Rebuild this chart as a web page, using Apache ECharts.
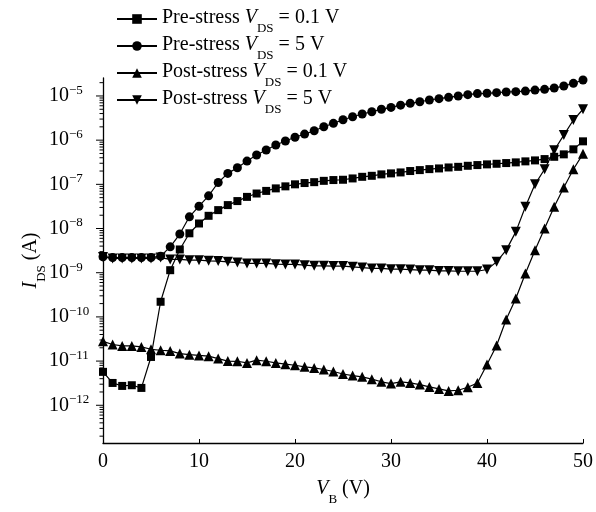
<!DOCTYPE html>
<html>
<head>
<meta charset="utf-8">
<script src="https://cdn.jsdelivr.net/npm/echarts@6/dist/echarts.min.js"></script>
<style>
  html, body { margin: 0; padding: 0; background: #fff; }
  #chart { width: 596px; height: 512px; }
</style>
</head>
<body>
<div id="chart"></div>
<script>
// Gate bias sweep (V)
const vb = [];
for (let v = 0; v <= 50; v++) vb.push(v);

// Drain current I_DS (A) for each curve, one value per gate bias step
const preStressLow = [
  5.7e-12, 3.2e-12, 2.74e-12, 2.84e-12, 2.47e-12, 1.24e-11, 2.2e-10, 1.14e-9, 3.36e-9, 7.8e-9,
  1.30e-8, 1.94e-8, 2.61e-8, 3.39e-8, 4.18e-8, 5.2e-8, 6.2e-8, 7.1e-8, 8.1e-8, 9.0e-8,
  1.0e-7, 1.07e-7, 1.12e-7, 1.2e-7, 1.25e-7, 1.27e-7, 1.36e-7, 1.48e-7, 1.56e-7, 1.68e-7,
  1.77e-7, 1.86e-7, 2.0e-7, 2.1e-7, 2.21e-7, 2.29e-7, 2.41e-7, 2.49e-7, 2.63e-7, 2.73e-7,
  2.83e-7, 2.92e-7, 3.03e-7, 3.14e-7, 3.31e-7, 3.48e-7, 3.73e-7, 4.2e-7, 4.77e-7, 6.2e-7,
  9.4e-7
];
const preStressHigh = [
  2.3e-9, 2.2e-9, 2.2e-9, 2.2e-9, 2.2e-9, 2.2e-9, 2.37e-9, 3.85e-9, 7.5e-9, 1.84e-8,
  3.2e-8, 5.5e-8, 1.1e-7, 1.77e-7, 2.37e-7, 3.36e-7, 4.6e-7, 5.97e-7, 7.75e-7, 9.55e-7,
  1.16e-6, 1.37e-6, 1.63e-6, 2.01e-6, 2.4e-6, 2.9e-6, 3.39e-6, 3.9e-6, 4.4e-6, 4.99e-6,
  5.5e-6, 6.2e-6, 6.8e-6, 7.4e-6, 8.1e-6, 8.7e-6, 9.3e-6, 1.0e-5, 1.07e-5, 1.13e-5,
  1.15e-5, 1.19e-5, 1.23e-5, 1.25e-5, 1.29e-5, 1.36e-5, 1.41e-5, 1.51e-5, 1.68e-5, 1.93e-5,
  2.3e-5
];
const postStressLow = [
  2.8e-11, 2.37e-11, 2.2e-11, 2.2e-11, 2.09e-11, 1.85e-11, 1.76e-11, 1.7e-11, 1.48e-11, 1.4e-11,
  1.34e-11, 1.29e-11, 1.14e-11, 1.0e-11, 9.9e-12, 9.1e-12, 1.05e-11, 9.9e-12, 9.1e-12, 8.5e-12,
  8.05e-12, 7.4e-12, 7.0e-12, 6.45e-12, 5.8e-12, 5.1e-12, 4.7e-12, 4.4e-12, 3.9e-12, 3.4e-12,
  3.1e-12, 3.4e-12, 3.2e-12, 2.94e-12, 2.6e-12, 2.34e-12, 2.11e-12, 2.19e-12, 2.56e-12, 3.2e-12,
  8.4e-12, 2.25e-11, 8.7e-11, 2.6e-10, 9.6e-10, 3.24e-9, 1.0e-8, 3.1e-8, 8.5e-8, 2.2e-7,
  4.9e-7
];
const postStressHigh = [
  2.28e-9, 2.1e-9, 2.1e-9, 2.1e-9, 2.1e-9, 2.1e-9, 2.2e-9, 2.0e-9, 2.0e-9, 1.92e-9,
  1.92e-9, 1.86e-9, 1.83e-9, 1.76e-9, 1.7e-9, 1.62e-9, 1.62e-9, 1.62e-9, 1.56e-9, 1.54e-9,
  1.54e-9, 1.48e-9, 1.43e-9, 1.43e-9, 1.41e-9, 1.41e-9, 1.36e-9, 1.31e-9, 1.25e-9, 1.25e-9,
  1.2e-9, 1.2e-9, 1.18e-9, 1.14e-9, 1.14e-9, 1.1e-9, 1.1e-9, 1.08e-9, 1.08e-9, 1.08e-9,
  1.18e-9, 1.76e-9, 3.24e-9, 8.4e-9, 3.1e-8, 1.0e-7, 2.2e-7, 5.9e-7, 1.3e-6, 2.85e-6,
  5.0e-6
];

// Axis ticks
const xTicks = [0, 10, 20, 30, 40, 50];
const yDecades = [1e-12, 1e-11, 1e-10, 1e-9, 1e-8, 1e-7, 1e-6, 1e-5];
const yMin = 1.4e-13;
const yMax = 2.55e-5;
const yMinorTicks = [];
for (let e = -13; e <= -5; e++) {
  for (let m = 2; m <= 9; m++) {
    const v = m * Math.pow(10, e);
    if (v > yMin && v < yMax) yMinorTicks.push(v);
  }
}

const FONT = 'Liberation Serif';
const seriesNames = [
  'Pre-stress VDS = 0.1 V',
  'Pre-stress VDS = 5 V',
  'Post-stress VDS = 0.1 V',
  'Post-stress VDS = 5 V'
];
const legendLabels = {
  'Pre-stress VDS = 0.1 V': '{n|Pre-stress }{i|V}{s|DS}{n| = 0.1 V}',
  'Pre-stress VDS = 5 V': '{n|Pre-stress }{i|V}{s|DS}{n| = 5 V}',
  'Post-stress VDS = 0.1 V': '{n|Post-stress }{i|V}{s|DS}{n| = 0.1 V}',
  'Post-stress VDS = 5 V': '{n|Post-stress }{i|V}{s|DS}{n| = 5 V}'
};

// Main text plus a lowered subscript
const subRich = {
  n: { fontFamily: FONT, fontSize: 20, color: '#000', lineHeight: 22, verticalAlign: 'top' },
  i: { fontFamily: FONT, fontSize: 20, color: '#000', fontStyle: 'italic', lineHeight: 22, verticalAlign: 'top' },
  s: { fontFamily: FONT, fontSize: 13, color: '#000', lineHeight: 13, verticalAlign: 'top', padding: [14, 0, 0, 0] }
};

function pairs(ys) { return vb.map((x, i) => [x, ys[i]]); }

function curve(name, ys, symbol, size, rotate) {
  return {
    name: name,
    type: 'line',
    data: pairs(ys),
    symbol: symbol,
    symbolSize: size,
    symbolRotate: rotate || 0,
    showAllSymbol: true,
    clip: false,
    lineStyle: { color: '#000', width: 1.2 },
    itemStyle: { color: '#000' },
    emphasis: { disabled: true },
    animation: false
  };
}

// Log-spaced tick marks drawn just left of the y axis
function tickSeries(values, len) {
  return {
    type: 'custom',
    clip: false,
    silent: true,
    z: 10,
    data: values.map(v => [0, v]),
    renderItem: function (params, api) {
      const c = api.coord([api.value(0), api.value(1)]);
      return {
        type: 'rect',
        shape: { x: c[0] - len, y: c[1] - 0.5, width: len, height: 1 },
        style: { fill: '#000' }
      };
    },
    animation: false
  };
}

const chart = echarts.init(document.getElementById('chart'), null, { renderer: 'canvas' });
chart.setOption({
  backgroundColor: '#fff',
  animation: false,
  grid: { left: 103, right: 11.5, top: 78, bottom: 69 },
  legend: {
    data: seriesNames,
    orient: 'vertical',
    left: 111,
    top: 3,
    itemWidth: 40,
    itemHeight: 12,
    itemGap: 0,
    selectedMode: false,
    formatter: name => legendLabels[name],
    textStyle: { fontFamily: FONT, fontSize: 20, color: '#000', rich: subRich }
  },
  xAxis: {
    type: 'value',
    min: xTicks[0],
    max: xTicks[xTicks.length - 1],
    interval: 10,
    name: '{i|V}{s|B}{n| (V)}',
    nameLocation: 'middle',
    nameGap: 36,
    nameMoveOverlap: false,
    nameTextStyle: { rich: subRich },
    axisLine: { lineStyle: { color: '#000', width: 1.3 } },
    axisTick: { inside: true, length: 4, lineStyle: { color: '#000', width: 1 } },
    axisLabel: { fontFamily: FONT, fontSize: 20, color: '#000', margin: 9 },
    splitLine: { show: false }
  },
  yAxis: {
    type: 'log',
    logBase: 10,
    min: yMin,
    max: yMax,
    name: '{i|I}{s|DS}{n| (A)}',
    nameLocation: 'middle',
    nameGap: 60,
    nameMoveOverlap: false,
    nameTextStyle: { rich: subRich },
    axisLine: { lineStyle: { color: '#000', width: 1.3 } },
    axisTick: { show: false },
    splitLine: { show: false },
    axisLabel: {
      align: 'left',
      margin: 54,
      formatter: function (v) {
        const e = Math.log10(v);
        const r = Math.round(e);
        if (Math.abs(e - r) > 1e-6) return '';
        if (!yDecades.some(d => Math.abs(Math.log10(d) - r) < 1e-6)) return '';
        return '{b|10}{p|\u2212' + Math.abs(r) + '}';
      },
      rich: {
        b: { fontFamily: FONT, fontSize: 20, color: '#000', lineHeight: 24 },
        p: { fontFamily: FONT, fontSize: 13, color: '#000', lineHeight: 13, verticalAlign: 'top' }
      }
    }
  },
  series: [
    curve(seriesNames[0], preStressLow, 'rect', 8),
    curve(seriesNames[1], preStressHigh, 'circle', 9),
    curve(seriesNames[2], postStressLow, 'triangle', 10),
    curve(seriesNames[3], postStressHigh, 'triangle', 10, 180),
    tickSeries(yDecades, 7),
    tickSeries(yMinorTicks, 3.5)
  ]
});
</script>
</body>
</html>
